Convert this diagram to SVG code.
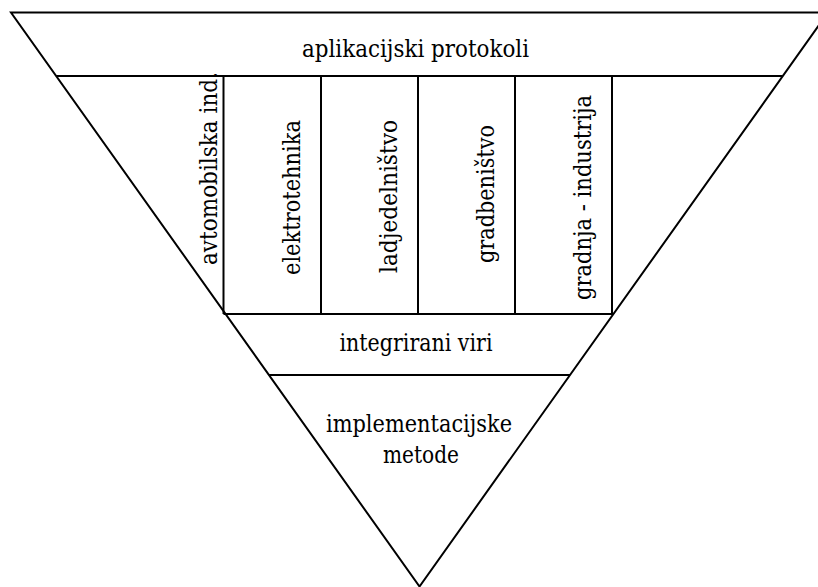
<svg xmlns="http://www.w3.org/2000/svg" width="818" height="587" viewBox="0 0 818 587">
<style>
.ln{fill:none;stroke:#000;stroke-width:2;stroke-linejoin:miter}
.t{font-family:'DejaVu Serif',serif;font-size:24px;fill:#000;text-anchor:middle}
</style>
<rect width="818" height="587" fill="#fff"/>
<g id="outline">
<polygon class="ln" points="11,12.5 828,12.5 419.5,586.5"/>
</g>
<g id="connectors">
<line class="ln" x1="56.2" y1="76" x2="782.8" y2="76"/>
<line class="ln" x1="223.5" y1="314" x2="613.4" y2="314"/>
<line class="ln" x1="269" y1="375" x2="570" y2="375"/>
</g>
<g id="top-layer"><text class="t" x="415.5" y="57" textLength="227" lengthAdjust="spacingAndGlyphs">aplikacijski protokoli</text></g>
<g id="col-avto">
<line class="ln" x1="223.5" y1="76" x2="223.5" y2="314"/>
<text class="t" transform="translate(217,168.5) rotate(-90)" textLength="193" lengthAdjust="spacingAndGlyphs">avtomobilska ind.</text>
</g>
<g id="col-elektro">
<line class="ln" x1="321" y1="76" x2="321" y2="314"/>
<text class="t" transform="translate(300,197.5) rotate(-90)" textLength="155" lengthAdjust="spacingAndGlyphs">elektrotehnika</text>
</g>
<g id="col-ladje">
<line class="ln" x1="418" y1="76" x2="418" y2="314"/>
<text class="t" transform="translate(397,196.5) rotate(-90)" textLength="153" lengthAdjust="spacingAndGlyphs">ladjedelništvo</text>
</g>
<g id="col-gradben">
<line class="ln" x1="515" y1="76" x2="515" y2="314"/>
<text class="t" transform="translate(494,194) rotate(-90)" textLength="138" lengthAdjust="spacingAndGlyphs">gradbeništvo</text>
</g>
<g id="col-gradnja">
<line class="ln" x1="612" y1="76" x2="612" y2="314"/>
<text class="t" transform="translate(591,197.5) rotate(-90)" textLength="205" lengthAdjust="spacingAndGlyphs">gradnja - industrija</text>
</g>
<g id="integrirani"><text class="t" x="416" y="351" textLength="153" lengthAdjust="spacingAndGlyphs">integrirani viri</text></g>
<g id="implementacijske">
<text class="t" x="419" y="432" textLength="186" lengthAdjust="spacingAndGlyphs">implementacijske</text>
<text class="t" x="421" y="463" textLength="76" lengthAdjust="spacingAndGlyphs">metode</text>
</g>
</svg>
